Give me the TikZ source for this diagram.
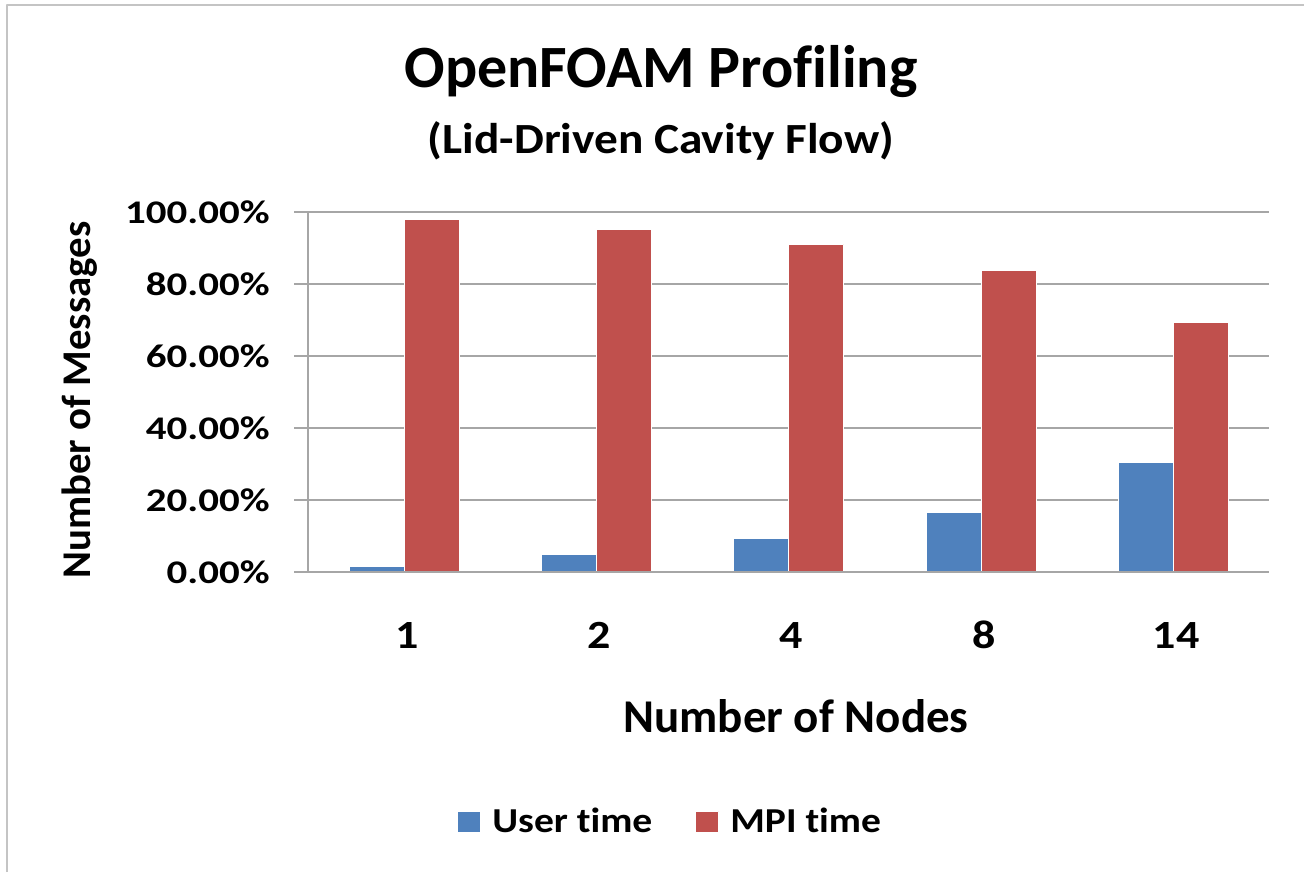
\documentclass[tikz,border=0pt]{standalone}
\usepackage{fontspec}
\setmainfont{Carlito}[Ligatures=NoCommon]
\usetikzlibrary{positioning}
\definecolor{usercol}{HTML}{4F81BD}
\definecolor{mpicol}{HTML}{C0504D}
\definecolor{gridcol}{HTML}{A6A6A6}
\definecolor{framecol}{HTML}{C4C4C4}
\newcommand{\xstr}[2]{\scalebox{#1}[1]{#2}} % horizontal stretch of a label
\begin{document}
\begin{tikzpicture}[x=0.5pt, y=-0.5pt, line join=round,
    gridline/.style={draw=gridcol, line width=0.9pt},
    userbar/.style={fill=usercol, draw=white, line width=0.2pt},
    mpibar/.style={fill=mpicol, draw=white, line width=0.2pt},
    ticklab/.style={font=\fontsize{16.5}{18}\selectfont\bfseries, anchor=east, inner sep=0pt},
    catlab/.style={font=\fontsize{20}{22}\selectfont\bfseries, anchor=base, inner sep=0pt},
    axtitle/.style={font=\fontsize{23.5}{26}\selectfont\bfseries, inner sep=0pt},
    legtext/.style={font=\fontsize{17.5}{19}\selectfont\bfseries, anchor=base west, inner sep=0pt},
    legkey/.style={minimum width=11.5pt, minimum height=10.5pt, inner sep=0pt, draw=white, line width=0.2pt}]
  \def\yo{572.3} % baseline of the plot (0 %)
  \def\ys{3.6}   % pixels per percent
  \useasboundingbox (0,0) rectangle (1304,872);
  \draw[framecol, line width=0.9pt] (7,872) -- (7,5) -- (1304,5);
  % title
  \node[font=\fontsize{30}{34}\selectfont\bfseries, anchor=base, inner sep=0pt] (title) at (661,88) {OpenFOAM Profiling};
  \node[font=\fontsize{21.5}{24}\selectfont\bfseries, anchor=base, inner sep=0pt] (subtitle) at (661,153) {\xstr{1.1}{(Lid-Driven Cavity Flow)}};
  % grid and y labels
  \foreach \v in {0,20,...,100} {
    \draw[gridline] (294,{\yo-\ys*\v}) -- (1269,{\yo-\ys*\v});
    \node[ticklab] (tick\v) at (270,{\yo-\ys*\v}) {\xstr{1.24}{\v.00\%}};
  }
  % bars
  \foreach \i/\lab/\u/\m in {0/1/1.8/98.1, 1/2/5.1/95.4, 2/4/9.6/91.1, 3/8/16.8/83.8, 4/14/30.6/69.6} {
    \pgfmathsetmacro\cx{404+192.3*\i}
    \filldraw[userbar] ({\cx-55},\yo) rectangle (\cx,{\yo-\ys*\u});
    \filldraw[mpibar] (\cx,\yo) rectangle ({\cx+55},{\yo-\ys*\m});
    \node[catlab] (cat\lab) at ({\cx+3},648) {\xstr{1.15}{\lab}};
  }
  \draw[gridline] (294,\yo) -- (1269,\yo);
  \draw[gridline] (307.7,211) -- (307.7,\yo);
  % axis titles
  \node[axtitle, anchor=base] (xtitle) at (796,732) {Number of Nodes};
  \node[axtitle, font=\fontsize{20.4}{24}\selectfont\bfseries, rotate=90] (ytitle) at (80,400) {Number of Messages};
  % legend
  \node[legkey, fill=usercol] (userkey) at (468.5,821.5) {};
  \node[legtext] (usertext) at (492,832) {\xstr{1.13}{User time}};
  \node[legkey, fill=mpicol] (mpikey) at (707,821.5) {};
  \node[legtext] (mpitext) at (730,832) {\xstr{1.13}{MPI time}};
\end{tikzpicture}
\end{document}
